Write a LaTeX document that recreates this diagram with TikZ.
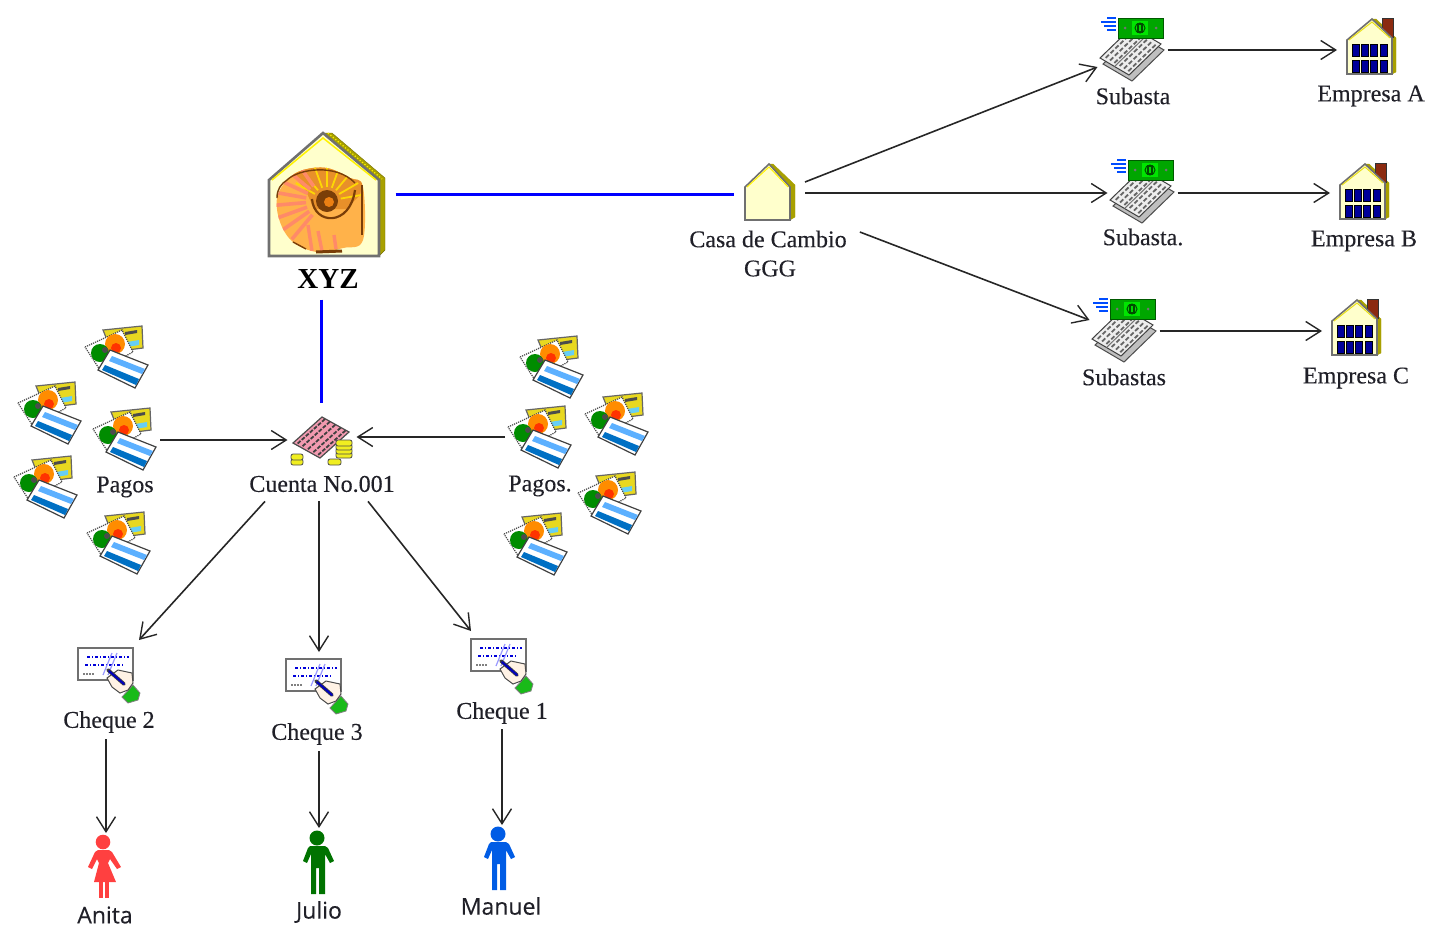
\documentclass[tikz,border=0pt]{standalone}
\usepackage{fontspec}
\setmainfont{Liberation Serif}[FakeBold=0.25]
\newfontfamily\boldf{Liberation Serif Bold}
\newfontfamily\sansf{Open Sans}[FakeBold=0.3]
\usetikzlibrary{arrows.meta,calc}
\definecolor{cream}{HTML}{FFFFCC}
\definecolor{olive}{HTML}{A8A000}
\definecolor{edgegray}{HTML}{707070}
\definecolor{txt}{HTML}{202028}
\definecolor{shellbase}{HTML}{FFB24A}
\definecolor{shelldark}{HTML}{E8902A}
\definecolor{shellcoral}{HTML}{FF8A68}
\definecolor{shellbrown}{HTML}{7A3E08}
\definecolor{cardyellow}{HTML}{E8D820}
\definecolor{bandlight}{HTML}{5CB0FF}
\definecolor{banddark}{HTML}{0070C4}
\definecolor{sheetpink}{HTML}{F29AB0}
\definecolor{coin}{HTML}{F0EE20}
\definecolor{chimney}{HTML}{8B2A10}
\tikzset{
  iconbox/.style={inner sep=0pt,outer sep=0pt,minimum width=#1},
  lab/.style={inner sep=0pt,font=\fontsize{24}{26}\selectfont,text=txt},
  plab/.style={inner sep=0pt,font=\sansf\fontsize{23}{26}\selectfont,text=txt},
  conn/.style={draw=black!85,line width=1.6pt,-{Straight Barb[length=15pt,width=19pt,line width=1.4pt]}},
  bluelink/.style={draw=blue,line width=3pt},
  cardicon/.pic={
    \fill[draw=black!60,fill=cardyellow,line width=1.2pt] (-14,-27)--(25,-31)--(26,-9)--(-5,-5)--cycle;
    \fill[black!70] (8,-25)--(20,-27)--(20,-24)--(8,-22)--cycle;
    \fill[cyan!60] (10,-15)--(22,-17)--(22,-12)--(10,-10)--cycle;
    \fill[draw=black!70,fill=white,densely dotted,line width=1.2pt] (-32,-10)--(5,-27)--(16,-5)--(-17,13)--cycle;
    \fill[orange!90!yellow] (-2,-13) circle (10);
    \fill[red!60!orange] (-1,-9) circle (5);
    \fill[green!55!black] (-17,-4) circle (9);
    \fill[black!70] (-12,-7) circle (3);
    \fill[draw=black!75,fill=white,line width=1.2pt] (-7,-7)--(31,8)--(18,31)--(-19,13)--cycle;
    \fill[bandlight] (-5,-1)--(28,12)--(25,17)--(-8,4)--cycle;
    \fill[banddark] (-12,8)--(22,22)--(19,28)--(-15,13)--cycle;
  },
  casaicon/.pic={
    \fill[olive,draw=olive] (0,-28)--(4,-28)--(26,-7)--(26,25)--(21,28)--(21,-5)--cycle;
    \fill[cream,draw=edgegray,line width=1.6pt] (0,-28)--(21,-5)--(21,28)--(-24,28)--(-24,-5)--cycle;
    \draw[yellow,line width=1pt] (-22,-5)--(0,-25)--(19,-5);
  },
  empresaicon/.pic={
    \fill[olive,draw=olive] (1,-28)--(5,-28)--(25,-9)--(25,25)--(21,27)--(21,-9)--cycle;
    \fill[chimney,draw=black!80,line width=1pt] (11,-29) rectangle (22,-10);
    \fill[cream,draw=edgegray,line width=1.6pt] (1,-28)--(21,-9)--(21,27)--(-24,27)--(-24,-7)--cycle;
    \draw[yellow!90!black,line width=1pt] (-22,-7)--(1,-25)--(19,-9);
    \foreach \wx in {-19,-10,-1,9}{
      \foreach \wy in {-3,13}{
        \fill[fill=blue!60!black,draw=black,line width=1pt] (\wx,\wy) rectangle ++(7,12);
      }
    }
  },
  subastaicon/.pic={
    \begin{scope}[shift={(3,6)}]
      \fill[black!25,draw=black!70,line width=1pt] (-32,11)--(0,-20)--(29,-3)--(-3,28)--cycle;
    \end{scope}
    \begin{scope}[shift={(-32,11)},x={(32pt,31pt)},y={(29pt,-17pt)}]
      \fill[white!93!black,draw=black!75,line width=1pt] (0,0)--(1,0)--(1,1)--(0,1)--cycle;
      \foreach \ka in {.12,.27,...,.96}{
        \foreach \kb in {.12,.27,.42,.6,.75,.9}{
          \draw[black!60,line width=1.8pt] (\ka-.05,\kb)--(\ka+.05,\kb);
        }
      }
      \draw[black!55,line width=1pt] (0,.5)--(1,.5);
    \end{scope}
    \fill[green!65!black,draw=green!35!black,line width=1pt] (-14,-29) rectangle (31,-9);
    \fill[green!90!black] (0,-26) rectangle (16,-12);
    \draw[green!30!black,line width=1pt] (8,-19) circle (5);
    \fill[green!30!black] (5,-24) rectangle (11,-14);
    \fill[green!85!black] (7,-22) rectangle (9,-16);
    \fill[black!55] (-7,-19) circle (1.5) (24,-19) circle (1.5);
    \foreach \sy/\sa in {-29/-25,-25/-31,-21/-28,-17/-25}{
      \draw[blue!70!cyan,line width=1.5pt] (\sa,\sy)--(-16,\sy);
    }
  },
  cuentaicon/.pic={
    \begin{scope}[shift={(-28,2)},x={(29pt,26pt)},y={(27pt,-15pt)}]
      \fill[sheetpink,draw=black!70,line width=1.2pt] (0,0)--(1,0)--(1,1)--(0,1)--cycle;
      \foreach \ka in {.1,.24,...,.95}{
        \foreach \kb in {.12,.3,.5,.7,.88}{
          \draw[black!75,line width=1.8pt] (\ka-.05,\kb)--(\ka+.05,\kb);
        }
      }
    \end{scope}
    \foreach \cy in {11,7,3,-1}{
      \fill[coin,draw=black!70,line width=.8pt,rounded corners=2pt] (15,\cy) rectangle (31,\cy+6);
    }
    \fill[coin,draw=black!70,line width=.8pt,rounded corners=2pt] (-30,18) rectangle (-18,24);
    \fill[coin,draw=black!70,line width=.8pt,rounded corners=2pt] (-30,13) rectangle (-18,19);
    \fill[coin,draw=black!70,line width=.8pt,rounded corners=2pt] (7,18) rectangle (20,24);
  },
  chequeicon/.pic={
    \fill[white,draw=edgegray,line width=1.6pt] (-31,-27) rectangle (24,5);
    \foreach \ry/\ra/\rb in {-18/-22/20,-10/-24/14}{
      \draw[blue!85!black,line width=1.7pt,dash pattern=on 3pt off 2pt on 1pt off 2pt] (\ra,\ry)--(\rb,\ry);
    }
    \draw[black!50,line width=1.2pt,dash pattern=on 1.5pt off 1.5pt] (-26,-1)--(-14,-1);
    \draw[blue!40,line width=1.2pt] (-6,0)--(3,-22) (-1,0)--(8,-22);
    \fill[green!70!black!90!white,draw=black!50,line width=.8pt] (24,10)--(31,18)--(29,25)--(19,28)--(13,22)--cycle;
    \fill[orange!10!white,draw=black!70,line width=1pt] (-2,3)--(9,-5)--(23,-2)--(24,8)--(19,15)--(11,18)--(3,12)--cycle;
    \draw[black!75,line width=3.6pt,line cap=round] (-1,-5)--(15,9);
    \draw[blue!75!black,line width=2pt,line cap=round] (0,-4)--(15,9);
  },
  womanicon/.pic={
    \fill (-1,-26) circle (7.3);
    \fill (-6,-18)--(5,-18)--(8,-16)--(17,-1)--(13,1)--(6,-9)--(4,-5)--(12,14)--(-10,14)--(-5,-5)--(-7,-9)--(-12,1)--(-16,-1)--(-9,-16)--cycle;
    \fill (-5,14) rectangle (-1,30);
    \fill (1,14) rectangle (5,30);
  },
  manicon/.pic={
    \fill (-1,-25) circle (7.5);
    \fill (-8,-17)--(7,-17)--(10,-15)--(16,-2)--(12,0)--(7,-9)--(7,31)--(1,31)--(1,5)--(-2,5)--(-2,31)--(-7,31)--(-7,-9)--(-11,0)--(-15,-2)--(-10,-15)--cycle;
  },
  shellicon/.pic={
    \fill[olive,draw=olive!70!black] (-3,-62)--(6,-62)--(59,-17)--(59,55)--(53,61)--(53,-15)--cycle;
    \draw[yellow,line width=1.2pt,dotted] (2,-62)--(56,-16);
    \fill[cream,draw=edgegray,line width=2.6pt] (-3,-62)--(53,-15)--(53,61)--(-57,61)--(-57,-15)--cycle;
    \draw[yellow,line width=1.5pt] (-54,-15)--(-3,-57)--(50,-15);
    \begin{scope}
      \clip plot[smooth cycle,tension=.6] coordinates {(-23,-25) (1,-27) (24,-17) (37,-8) (37,45) (17,53) (-9,57) (-33,47) (-46,27) (-49,3) (-39,-15)};
      \fill[shellbase] (-60,-40) rectangle (50,70);
      \fill[shelldark] (-40,-30) -- (40,-30) -- (34,0) -- (20,14) -- (-12,14) -- (-20,-4) -- cycle;
      \foreach \ang in {-150,-130,...,-10}{
        \draw[yellow!75!orange,line width=1.8pt] ($(1,6)+(\ang:14)$) -- ($(1,6)+(\ang:36)$);
      }
      \foreach \ang in {130,145,...,235}{
        \draw[shellcoral,line width=3.6pt] ($(-2,6)+(\ang:18)$) -- ($(-2,6)+(\ang:50)$);
      }
      \draw[shellcoral,line width=3.4pt] (-18,30)--(-14,56) (-8,36)--(-4,56) (8,40)--(10,54);
    \end{scope}
    \fill[shellbrown] (1,6) circle (11);
    \fill[orange!70!brown] (3,7) circle (5);
    \draw[shellbrown,line width=2.2pt] (-14,4) .. controls (-12,30) and (24,32) .. (29,-5);
    \draw[shellbrown,line width=2.4pt] (36,-10)--(36,40);
    \draw[shellbrown,line width=1.4pt] (-39,-15) .. controls (-28,-26) and (10,-32) .. (29,-12);
    \draw[shellbrown,line width=1.4pt] (-49,3) .. controls (-49,-6) and (-45,-11) .. (-39,-15);
    \draw[shellbrown,line width=1.4pt] (-33,47)--(-20,54);
    \draw[shellbrown,line width=3pt] (-10,57)--(16,56);
  }
}
\begin{document}
\begin{tikzpicture}[x=1pt,y=-1pt]
\useasboundingbox (0,0) rectangle (1439,938);

% --- icons
\node[iconbox=117pt,minimum height=123pt] (xyz) at (326,195) {};
\pic at (xyz) {shellicon};
\node[iconbox=52pt,minimum height=58pt] (casa) at (769,192) {};
\pic at (casa) {casaicon};

\node[iconbox=65pt,minimum height=62pt] (suba) at (1132,47) {};
\node[iconbox=65pt,minimum height=62pt] (subb) at (1142,189) {};
\node[iconbox=65pt,minimum height=62pt] (subc) at (1124,328) {};
\pic at (suba) {subastaicon};
\pic at (subb) {subastaicon};
\pic at (subc) {subastaicon};

\node[iconbox=52pt,minimum height=59pt] (empa) at (1371,47) {};
\node[iconbox=52pt,minimum height=59pt] (empb) at (1364,192) {};
\node[iconbox=52pt,minimum height=59pt] (empc) at (1356,328) {};
\pic at (empa) {empresaicon};
\pic at (empb) {empresaicon};
\pic at (empc) {empresaicon};

\node[iconbox=63pt,minimum height=52pt] (cuenta) at (321,441) {};
\pic at (cuenta) {cuentaicon};

\node[iconbox=62pt,minimum height=62pt] (pl1) at (117,357) {};
\node[iconbox=62pt,minimum height=62pt] (pl2) at (50,413) {};
\node[iconbox=62pt,minimum height=62pt] (pl3) at (125,439) {};
\node[iconbox=62pt,minimum height=62pt] (pl4) at (46,487) {};
\node[iconbox=62pt,minimum height=62pt] (pl5) at (119,543) {};
\node[iconbox=62pt,minimum height=62pt] (pr1) at (552,367) {};
\node[iconbox=62pt,minimum height=62pt] (pr2) at (617,424) {};
\node[iconbox=62pt,minimum height=62pt] (pr3) at (540,437) {};
\node[iconbox=62pt,minimum height=62pt] (pr4) at (610,503) {};
\node[iconbox=62pt,minimum height=62pt] (pr5) at (536,544) {};
\foreach \p in {pl1,pl2,pl3,pl4,pl5,pr1,pr2,pr3,pr4,pr5}{\pic at (\p) {cardicon};}

\node[iconbox=64pt,minimum height=54pt] (ch2) at (109,675) {};
\node[iconbox=64pt,minimum height=54pt] (ch3) at (317,686) {};
\node[iconbox=64pt,minimum height=54pt] (ch1) at (502,666) {};
\pic at (ch2) {chequeicon};
\pic at (ch3) {chequeicon};
\pic at (ch1) {chequeicon};

\node[iconbox=34pt,minimum height=64pt] (anita) at (104,868) {};
\node[iconbox=34pt,minimum height=64pt] (julio) at (318,863) {};
\node[iconbox=34pt,minimum height=64pt] (manuel) at (499,859) {};
\pic[red!75!white] at (anita) {womanicon};
\pic[green!45!black] at (julio) {manicon};
\pic[blue!60!cyan!90!black] at (manuel) {manicon};

% --- labels
\node[inner sep=0pt,font=\boldf\fontsize{29}{30}\selectfont,text=black] (xyzl) at (328,279) {XYZ};
\node[lab] (casal) at (768,239) {Casa de Cambio};
\node[lab] (casal2) at (770,268.5) {GGG};
\node[lab] (sual) at (1133,96) {Subasta};
\node[lab] (subl) at (1143,237) {Subasta.};
\node[lab] (sucl) at (1124,377) {Subastas};
\node[lab] (emal) at (1371,96) {Empresa A};
\node[lab] (embl) at (1364,241) {Empresa B};
\node[lab] (emcl) at (1356,378) {Empresa C};
\node[lab] (cuel) at (322,484) {Cuenta No.001};
\node[lab] (pagl) at (125,487) {Pagos};
\node[lab] (pagr) at (540,486) {Pagos.};
\node[lab] (ch2l) at (109,722) {Cheque 2};
\node[lab] (ch3l) at (317,734) {Cheque 3};
\node[lab] (ch1l) at (502,713) {Cheque 1};
\node[plab] (anil) at (105,915) {Anita};
\node[plab] (jull) at (319,912) {Julio};
\node[plab] (manl) at (501,906) {Manuel};

% --- connectors
\draw[bluelink] ([shift={(11,-1)}]xyz.east) -- ([shift={(-9,2)}]casa.west);
\draw[bluelink] ([xshift=-7pt,yshift=-11pt]xyzl.south) -- ([shift={(0,-12)}]cuenta.north);

\draw[conn] ([shift={(10,-10)}]casa.east) -- ([shift={(-2,20)}]suba.west);
\draw[conn] ([shift={(10,1)}]casa.east) -- ([shift={(-2,4)}]subb.west);
\draw[conn] ([shift={(13,-7)}]casal.east) -- ([shift={(-2,-8)}]subc.west);

\draw[conn] ([shift={(3,3)}]suba.east) -- ([shift={(-8,3)}]empa.west);
\draw[conn] ([shift={(3,4)}]subb.east) -- ([shift={(-8,1)}]empb.west);
\draw[conn] ([shift={(3,3)}]subc.east) -- ([shift={(-8,3)}]empc.west);

\draw[conn] ([shift={(4,1)}]pl3.east) -- ([shift={(-2,-1)}]cuenta.west);
\draw[conn] ([shift={(-4,0)}]pr3.west) -- ([shift={(4,-4)}]cuenta.east);

\draw[conn] ([shift={(-57,9)}]cuel.south) -- ([shift={(30,-8)}]ch2.north);
\draw[conn] ([shift={(-3,9)}]cuel.south) -- ([shift={(2,-7)}]ch3.north);
\draw[conn] ([shift={(46,9)}]cuel.south) -- ([shift={(-31,-8)}]ch1.north);

\draw[conn] ([shift={(-3,6)}]ch2l.south) -- ([shift={(2,-3)}]anita.north);
\draw[conn] ([shift={(2,6)}]ch3l.south) -- ([shift={(1,-3)}]julio.north);
\draw[conn] ([shift={(0,5)}]ch1l.south) -- ([shift={(3,-2)}]manuel.north);
\end{tikzpicture}
\end{document}
